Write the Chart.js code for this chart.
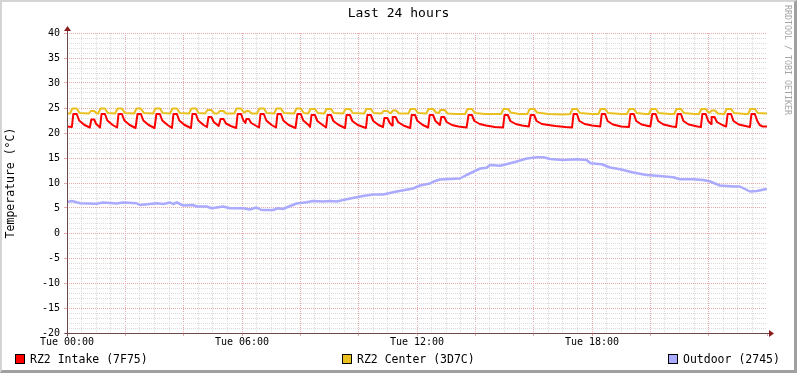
<!DOCTYPE html>
<html>
<head>
<meta charset="utf-8">
<title>Last 24 hours</title>
<script src="https://cdn.jsdelivr.net/npm/chart.js@4/dist/chart.umd.min.js"></script>
<style>
  body { margin: 0; background: #fff; overflow: hidden; }
  #wrap { position: relative; width: 797px; height: 373px; font-family: "DejaVu Sans Mono", monospace; color: #000; }
  #wrap canvas { position: absolute; left: 0; top: 0; }
  .frame { position: absolute; left: 0; top: 0; width: 797px; height: 373px; box-sizing: border-box;
    border-top: 2px solid #d4d4d4; border-left: 2px solid #d4d4d4;
    border-right: 3px solid #a0a0a0; border-bottom: 3px solid #a0a0a0; pointer-events: none; }
  .title { position: absolute; left: 0; top: 5px; width: 797px; text-align: center; font-size: 13px; line-height: 16px; }
  .mark { position: absolute; left: 783px; top: 5px; writing-mode: vertical-rl; font-size: 8.3px; color: #a4a4a4; line-height: 10px; }
  .leg { position: absolute; top: 353px; font-size: 11.5px; line-height: 13px; white-space: pre; }
  .box { position: absolute; top: 354px; width: 10px; height: 10px; box-sizing: border-box; border: 1px solid #000; }
</style>
</head>
<body>
<div id="wrap">
  <canvas id="temps" width="797" height="373"></canvas>
  <div class="title">Last 24 hours</div>
  <div class="mark">RRDTOOL / TOBI OETIKER</div>
  <div class="box" style="left:15px;background:#ff0000"></div>
  <div class="leg" style="left:30px">RZ2 Intake (7F75)</div>
  <div class="box" style="left:342px;background:#eac020"></div>
  <div class="leg" style="left:357px">RZ2 Center (3D7C)</div>
  <div class="box" style="left:668px;background:#aaaaff"></div>
  <div class="leg" style="left:683px">Outdoor (2745)</div>
  <div class="frame"></div>
</div>
<script>
// minutes since Tue 00:00, temperature in °C
var xTickLabels = ['Tue 00:00', 'Tue 06:00', 'Tue 12:00', 'Tue 18:00'];

var intake = [
  [0,21.3],[10,21.2],
  [13,23.8],[20,23.8],[25,22.5],[36,21.6],[47,21.1],
  [50,22.7],[56,22.7],[60,21.8],[68,21.1],
  [71,23.8],[78,23.8],[83,22.5],[94,21.6],[103,21.1],
  [106,23.8],[113,23.8],[118,22.5],[129,21.6],[141,21.0],
  [145,23.8],[152,23.8],[157,22.5],[168,21.6],[180,21.0],
  [184,23.8],[191,23.8],[196,22.5],[207,21.6],[216,21.0],
  [219,23.8],[226,23.8],[231,22.5],[242,21.6],[255,21.0],
  [258,23.8],[265,23.8],[270,22.5],[281,21.6],[288,21.2],
  [291,23.2],[297,23.2],[302,22.2],[312,21.4],
  [316,22.8],[322,22.8],[327,21.9],[337,21.4],[348,21.0],
  [351,23.8],[358,23.8],[363,22.5],[367,22.0],
  [369,22.8],[374,22.8],[379,22.0],[388,21.5],[395,21.1],
  [398,23.8],[405,23.8],[410,22.5],[421,21.6],[430,21.1],
  [433,23.8],[440,23.8],[445,22.5],[456,21.6],[470,21.0],
  [474,23.8],[481,23.8],[486,22.5],[497,21.6],[500,21.2],
  [503,23.6],[510,23.6],[515,22.4],[526,21.6],[533,21.1],
  [536,23.6],[543,23.6],[548,22.4],[559,21.6],[572,21.0],
  [575,23.6],[582,23.6],[587,22.4],[598,21.6],[615,21.0],
  [618,23.6],[625,23.6],[630,22.4],[641,21.6],[650,21.2],
  [653,23.0],[659,23.0],[664,22.0],[669,21.5],
  [670,23.2],[676,23.2],[681,22.2],[692,21.5],[706,21.0],
  [709,23.6],[716,23.6],[721,22.4],[732,21.6],[743,21.1],
  [746,23.6],[753,23.6],[758,22.4],[767,21.6],
  [770,23.2],[776,23.2],[781,22.2],[792,21.6],[805,21.3],[822,21.1],
  [826,23.6],[833,23.6],[838,22.4],[849,21.8],[862,21.5],[880,21.2],[897,21.1],
  [900,23.6],[907,23.6],[912,22.4],[923,21.8],[936,21.5],[950,21.3],
  [954,23.6],[961,23.6],[966,22.4],[977,21.8],[990,21.6],[1005,21.4],[1025,21.2],[1039,21.1],
  [1042,23.8],[1049,23.8],[1054,22.4],[1065,21.8],[1080,21.5],[1097,21.3],
  [1100,23.8],[1107,23.8],[1112,22.4],[1123,21.7],[1140,21.3],[1156,21.2],
  [1159,23.8],[1166,23.8],[1171,22.4],[1182,21.7],[1200,21.3],
  [1204,23.8],[1211,23.8],[1216,22.4],[1227,21.7],[1245,21.3],[1253,21.2],
  [1256,23.8],[1263,23.8],[1268,22.4],[1279,21.7],[1297,21.3],[1304,21.2],
  [1307,23.8],[1314,23.8],[1319,22.4],[1325,21.8],
  [1326,23.2],[1332,23.2],[1337,22.2],[1348,21.6],[1356,21.3],
  [1359,23.8],[1366,23.8],[1371,22.4],[1382,21.7],[1400,21.3],[1405,21.2],
  [1408,23.8],[1415,23.8],[1420,22.4],[1425,21.6],[1431,21.3],[1440,21.3]
];

var center = [
  [0,23.9],
  [6,23.9],[11,24.9],[20,24.9],[26,24.0],
  [45,23.9],[49,24.4],[56,24.4],[61,23.9],
  [64,23.9],[69,24.9],[78,24.9],[84,24.0],
  [99,23.9],[104,24.9],[113,24.9],[119,24.0],
  [138,23.9],[143,24.9],[152,24.9],[158,24.0],
  [177,23.9],[182,24.9],[191,24.9],[197,24.0],
  [212,23.9],[217,24.9],[226,24.9],[232,24.0],
  [251,23.9],[256,24.9],[265,24.9],[271,24.0],
  [284,23.9],[289,24.6],[297,24.6],[303,23.9],
  [310,23.9],[314,24.4],[322,24.4],[327,23.9],
  [344,23.9],[349,24.9],[358,24.9],[363,24.2],
  [366,24.1],[369,24.4],[374,24.4],[380,23.9],
  [391,23.9],[396,24.9],[405,24.9],[411,24.0],
  [426,23.9],[431,24.9],[440,24.9],[446,24.0],
  [467,23.9],[472,24.9],[481,24.9],[487,24.0],
  [496,23.9],[501,24.8],[510,24.8],[516,24.0],
  [529,23.9],[534,24.8],[543,24.8],[549,24.0],
  [568,23.9],[573,24.8],[582,24.8],[588,24.0],
  [611,23.9],[616,24.8],[625,24.8],[631,24.0],
  [647,23.9],[651,24.4],[659,24.4],[664,24.0],
  [667,24.0],[670,24.5],[677,24.5],[683,23.9],
  [702,23.9],[707,24.8],[716,24.8],[722,24.0],
  [739,23.9],[744,24.8],[753,24.8],[759,24.1],
  [765,24.0],[768,24.6],[777,24.6],[783,23.9],[800,23.8],
  [819,23.8],[824,24.8],[833,24.8],[839,24.0],[860,23.8],
  [893,23.8],[898,24.8],[907,24.8],[913,24.1],[930,23.8],
  [947,23.8],[952,24.8],[961,24.8],[967,24.1],[990,23.8],[1020,23.7],
  [1035,23.8],[1040,24.8],[1049,24.8],[1055,24.0],[1080,23.8],
  [1093,23.8],[1098,24.8],[1107,24.8],[1113,24.0],[1140,23.8],
  [1152,23.8],[1157,24.8],[1166,24.8],[1172,24.0],[1190,23.8],
  [1197,23.8],[1202,24.8],[1211,24.8],[1217,24.0],[1240,23.8],
  [1249,23.8],[1254,24.8],[1263,24.8],[1269,24.0],[1290,23.8],
  [1300,23.8],[1305,24.8],[1314,24.8],[1319,24.2],
  [1323,24.1],[1326,24.5],[1333,24.5],[1339,23.9],[1350,23.8],
  [1352,23.8],[1357,24.8],[1366,24.8],[1372,24.0],[1395,23.8],
  [1401,23.8],[1406,24.8],[1415,24.8],[1421,24.0],[1440,23.9]
];

var outdoor = [
  [0,6.2],[10,6.4],[27,5.95],[61,5.85],[74,6.1],[102,5.9],[115,6.1],[143,5.95],
  [150,5.6],[185,5.95],[198,5.8],[212,6.1],[218,5.8],[226,6.1],[239,5.5],[259,5.6],
  [267,5.3],[287,5.3],[298,4.95],[321,5.3],[335,4.95],[362,4.95],[376,4.7],[390,5.1],
  [400,4.6],[424,4.6],[434,4.95],[444,4.8],[472,5.9],[493,6.15],[506,6.4],[527,6.3],
  [541,6.4],[555,6.3],[575,6.75],[609,7.4],[630,7.7],[650,7.7],[678,8.3],[712,8.9],
  [726,9.5],[747,9.9],[753,10.25],[767,10.7],[808,10.9],[822,11.6],[839,12.4],[850,12.9],
  [863,13.05],[870,13.6],[891,13.45],[904,13.75],[925,14.3],[946,14.9],[966,15.15],[980,15.15],
  [994,14.8],[1021,14.6],[1048,14.75],[1069,14.6],[1077,13.95],[1100,13.75],[1117,13.1],[1138,12.75],
  [1165,12.1],[1192,11.6],[1220,11.4],[1247,11.15],[1261,10.75],[1288,10.75],[1309,10.6],[1323,10.3],
  [1343,9.5],[1371,9.3],[1384,9.3],[1405,8.3],[1419,8.4],[1436,8.75],[1440,8.8]
];

var mono = 'DejaVu Sans Mono';
var minorGrid = '#dadada';
var majorGrid = '#e6aaaa';

function toPoints(list) {
  return list.map(function(p) { return {x: p[0], y: p[1]}; });
}

// rrdtool style axes with arrow heads
var rrdAxes = {
  id: 'rrdAxes',
  afterDatasetsDraw: function(chart) {
    var ctx = chart.ctx, a = chart.chartArea;
    var x0 = Math.round(a.left) + 0.5, y0 = Math.round(a.bottom) + 0.5;
    ctx.save();
    ctx.strokeStyle = '#6e4848';
    ctx.lineWidth = 1;
    ctx.beginPath();
    ctx.moveTo(x0, y0 + 3); ctx.lineTo(x0, a.top - 2);
    ctx.moveTo(x0 - 3, y0); ctx.lineTo(a.right + 2, y0);
    ctx.stroke();
    ctx.fillStyle = '#8a1c1c';
    ctx.beginPath();
    ctx.moveTo(x0 - 3.5, a.top - 2); ctx.lineTo(x0 + 3.5, a.top - 2); ctx.lineTo(x0, a.top - 7);
    ctx.fill();
    ctx.beginPath();
    ctx.moveTo(a.right + 2, y0 - 3.5); ctx.lineTo(a.right + 2, y0 + 3.5); ctx.lineTo(a.right + 7, y0);
    ctx.fill();
    ctx.restore();
  }
};

new Chart(document.getElementById('temps'), {
  type: 'line',
  data: {
    datasets: [{
      label: 'RZ2 Intake (7F75)',
      data: toPoints(intake),
      borderColor: '#ff0000',
      borderWidth: 2,
      order: 2
    }, {
      label: 'RZ2 Center (3D7C)',
      data: toPoints(center),
      borderColor: '#eac020',
      borderWidth: 2,
      order: 1
    }, {
      label: 'Outdoor (2745)',
      data: toPoints(outdoor),
      borderColor: '#aaaaff',
      borderWidth: 2.5,
      order: 0
    }]
  },
  options: {
    responsive: false,
    animation: false,
    devicePixelRatio: 1,
    layout: { padding: { top: 33, right: 30, left: 0, bottom: 0 } },
    elements: { point: { radius: 0 }, line: { tension: 0, borderJoinStyle: 'round' } },
    plugins: { legend: { display: false }, tooltip: { enabled: false } },
    scales: {
      x: {
        type: 'linear',
        min: 0,
        max: 1440,
        afterFit: function(s) { s.height = 40; },
        ticks: {
          stepSize: 30,
          autoSkip: false,
          maxRotation: 0,
          minRotation: 0,
          padding: 0,
          color: '#000',
          font: { family: mono, size: 10 },
          callback: function(v) {
            return (v % 360 === 0 && v < 1440) ? xTickLabels[v / 360] : '';
          }
        },
        grid: {
          color: function(c) {
            var v = c.tick.value;
            if (v === 1440) return 'rgba(0,0,0,0)';
            return v % 120 === 0 ? majorGrid : minorGrid;
          },
          tickColor: function(c) {
            return c.tick.value % 120 === 0 ? majorGrid : 'rgba(0,0,0,0)';
          },
          tickLength: 3
        },
        border: { display: false, dash: [1, 1] }
      },
      y: {
        min: -20,
        max: 40,
        afterFit: function(s) { s.width = 67; },
        title: {
          display: true,
          text: 'Temperature (°C)',
          color: '#000',
          font: { family: mono, size: 11.5 },
          padding: { top: 4, bottom: 0 }
        },
        ticks: {
          stepSize: 1,
          autoSkip: false,
          padding: 4,
          color: '#000',
          font: { family: mono, size: 10 },
          callback: function(v) { return v % 5 === 0 ? String(v) : ''; }
        },
        grid: {
          color: function(c) { return c.tick.value % 5 === 0 ? majorGrid : minorGrid; },
          tickColor: function(c) { return c.tick.value % 5 === 0 ? majorGrid : 'rgba(0,0,0,0)'; },
          tickLength: 3
        },
        border: { display: false, dash: [1, 1] }
      }
    }
  },
  plugins: [rrdAxes]
});
</script>
</body>
</html>
